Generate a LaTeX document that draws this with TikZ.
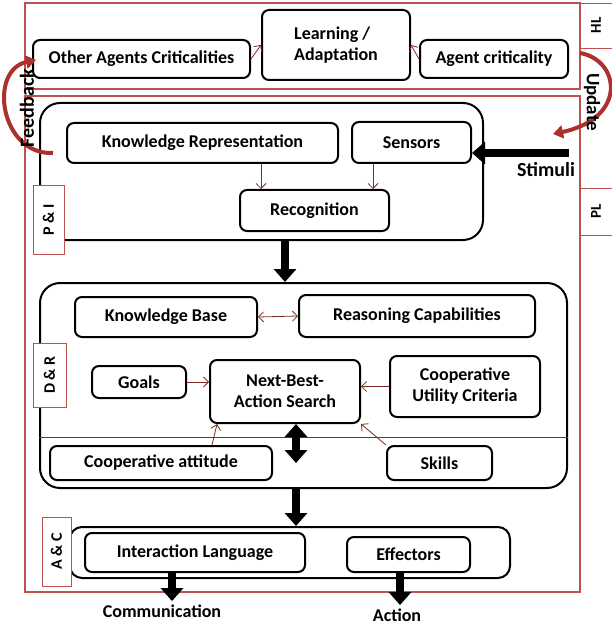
\documentclass[tikz,border=0pt]{standalone}
\usepackage{fontspec}
\setmainfont{Carlito}
\usetikzlibrary{arrows.meta}
\definecolor{framered}{RGB}{192,80,77}
\definecolor{arcred}{RGB}{172,48,44}
\definecolor{flowred}{RGB}{125,45,35}

\begin{document}
\begin{tikzpicture}[x=1pt,y=-1pt,
	box/.style={draw, line width=2pt, rounded corners=7pt, align=center, inner sep=0pt, font=\fontsize{18}{21}\selectfont\bfseries},
	group/.style={draw, line width=2pt, rounded corners=20pt, inner sep=0pt},
	tab/.style={draw=framered, fill=white, line width=0.8pt, rotate=90, inner sep=0pt, font=\fontsize{16}{18}\selectfont\bfseries},
	flow/.style={flowred, line width=0.8pt, -{Straight Barb[length=5pt,width=10pt]}},
	fat/.style={line width=8pt, -{Triangle[width=22pt,length=13pt]}},
	backarc/.style={arcred, line width=4pt, -{Triangle[width=13pt,length=10pt]}},
	word/.style={font=\fontsize{18}{21}\selectfont\bfseries}]
	\useasboundingbox (0,0) rectangle (611,628);

	% layers
	\draw[framered, line width=1.5pt] (25,3) rectangle (580,89);
	\draw[framered, line width=1.5pt] (25,96) rectangle (580,592);
	\node[tab, font=\fontsize{15}{17}\selectfont\bfseries, minimum width=45, minimum height=32] (HL) at (596,25.5) {HL};
	\node[tab, font=\fontsize{15}{17}\selectfont\bfseries, minimum width=47, minimum height=32] (PL) at (596,211.5) {PL};

	% HL
	\node[box, minimum width=217, minimum height=38] (OAC) at (141.5,59) {Other Agents Criticalities};
	\node[box, minimum width=148, minimum height=70, align=left] (LA) at (336,45) {Learning /\\Adaptation};
	\node[box, minimum width=148, minimum height=38] (AC) at (494,59) {Agent criticality};
	\draw[flow] (OAC.east) -- (LA.west);
	\draw[flow] (AC.west) -- (LA.east);

	% P & I
	\node[group, minimum width=443, minimum height=137] (PI) at (261.5,171.5) {};
	\node[tab, minimum width=69, minimum height=31] (PItab) at (48.5,219.5) {P \& I};
	\node[box, minimum width=271, minimum height=40] (KR) at (202.5,143) {Knowledge Representation};
	\node[box, minimum width=119, minimum height=41] (Sen) at (411.5,142.5) {Sensors};
	\node[box, minimum width=149, minimum height=41] (Rec) at (314.5,210.5) {Recognition};
	\coordinate (r1) at ([xshift=22pt]Rec.north west);
	\coordinate (r2) at ([xshift=-17pt]Rec.north east);
	\draw[flow] (KR.south -| r1) -- (r1);
	\draw[flow] (Sen.south -| r2) -- (r2);
	\coordinate (stim) at (569,153);
	\draw[fat] (stim) -- (Sen.east |- stim);
	\node[word, font=\fontsize{20}{24}\selectfont\bfseries] (Stimuli) at (546,170) {Stimuli};

	% D & R
	\node[group, minimum width=527, minimum height=205] (DR) at (303.5,385.5) {};
	\node[tab, minimum width=64, minimum height=33] (DRtab) at (49.5,375) {D \& R};
	\node[box, minimum width=182, minimum height=40] (KB) at (166,317) {Knowledge Base};
	\node[box, minimum width=236, minimum height=42] (RC) at (417,316) {Reasoning Capabilities};
	\node[box, minimum width=94, minimum height=32] (Goals) at (139,382) {Goals};
	\node[box, minimum width=150, minimum height=63] (NBAS) at (285,391.5) {Next-Best-\\Action Search};
	\node[box, minimum width=150, minimum height=61] (CUC) at (465,386.5) {Cooperative\\Utility Criteria};
	\draw[flowred, line width=0.8pt] (DR.west |- 0,437) -- (DR.east |- 0,437);
	\node[box, minimum width=222, minimum height=34] (CA) at (161,463) {Cooperative attitude};
	\node[box, minimum width=105, minimum height=34] (Sk) at (439.5,463) {Skills};
	\draw[flowred, line width=0.8pt, {Straight Barb[length=5pt,width=10pt]}-{Straight Barb[length=5pt,width=10pt]}] (KB.east) -- (RC.west);
	\draw[flow] (Goals.east) -- (NBAS.west |- Goals.east);
	\draw[flow] (CUC.west) -- (NBAS.east |- CUC.west);
	\draw[flow] ([xshift=51pt]CA.north) -- ([xshift=8pt]NBAS.south west);
	\draw[flow] (Sk.north west) -- (NBAS.south east);
	\coordinate (mid) at (296,0);
	\draw[fat, {Triangle[width=22pt,length=13pt]}-{Triangle[width=22pt,length=13pt]}] (NBAS.south -| mid) -- (mid |- 0,463);
	\draw[fat] (PI.south -| NBAS) -- (DR.north -| NBAS);

	% A & C
	\node[group, rounded corners=12pt, minimum width=440, minimum height=51] (AAC) at (290,552.5) {};
	\node[tab, minimum width=69, minimum height=29] (ACtab) at (56.5,551.5) {A \& C};
	\node[box, minimum width=220, minimum height=39] (IL) at (195,552.5) {Interaction Language};
	\node[box, minimum width=123, minimum height=35] (Eff) at (408.5,554.5) {Effectors};
	\draw[fat] (DR.south -| mid) -- (AAC.north -| mid);
	\node[word] (Comm) at (162,611) {Communication};
	\node[word] (Act) at (397,615) {Action};
	\draw[fat] (IL.south -| 172,0) -- (Comm.north -| 172,0);
	\draw[fat] (Eff.south -| 400,0) -- (Act.north -| 400,0);

	% feedback / update
	\draw[backarc] (53,153) .. controls (0,155) and (-12,70) .. (36,60);
	\node[word, font=\fontsize{20}{24}\selectfont\bfseries, rotate=90] at (27,108) {Feedback};
	\draw[backarc] (580,53) .. controls (620,60) and (628,118) .. (553,134);
	\node[word, font=\fontsize{19}{23}\selectfont\bfseries, rotate=-90] at (592,102) {Update};
\end{tikzpicture}
\end{document}
